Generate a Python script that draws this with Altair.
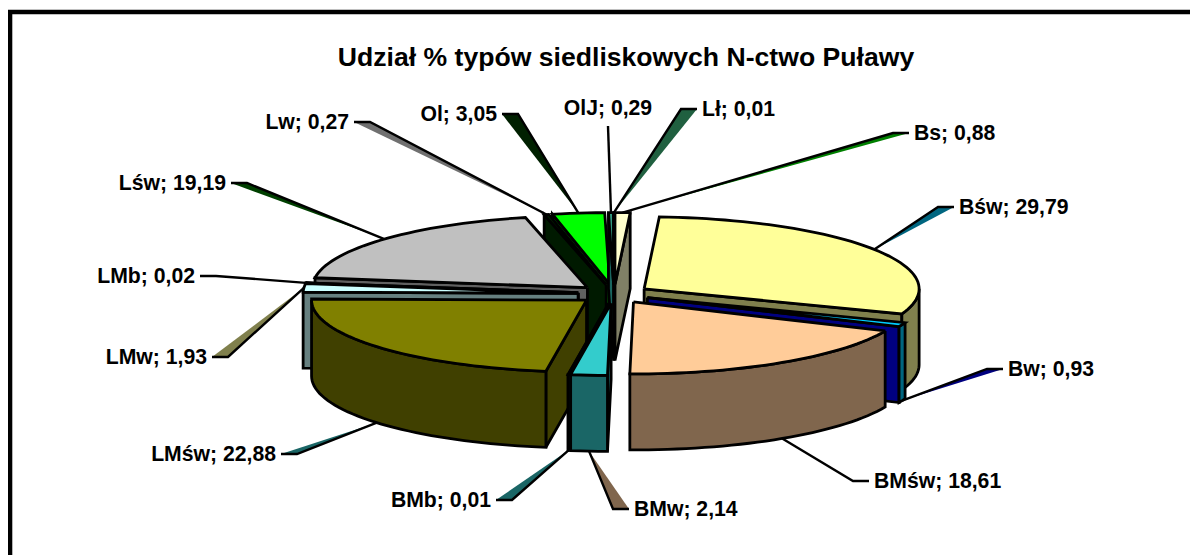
import math
import altair as alt
import pandas as pd

TITLE = "Udział % typów siedliskowych N-ctwo Puławy"

# ---- data, clockwise from 12 o'clock ----
names = ["Bs", "Bśw", "Bw", "BMśw", "BMw", "BMb", "LMśw", "LMw", "LMb", "Lśw", "Lw", "Ol", "OlJ", "Lł"]
values = [0.88, 29.79, 0.93, 18.61, 2.14, 0.01, 22.88, 1.93, 0.02, 19.19, 0.27, 3.05, 0.29, 0.01]

# ---- colours ----
top_colors = ["#FFFFCC", "#FFFF99", "#00CCFF", "#FFCC99", "#33CCCC", "#33CCCC", "#808000", "#CCFFFF", "#969696", "#C0C0C0", "#002800", "#00FF00", "#339980", "#339966"]
outer_colors = ["#808066", "#80804D", "#006680", "#80664D", "#1A6666", "#1A6666", "#404000", "#668080", "#4B4B4B", "#606060", "#001A00", "#008000", "#1A4D40", "#1A4D33"]
end_colors = ["#808066", "#80804D", "#000080", "#80664D", "#1A6666", "#1A6666", "#404000", "#668080", "#4B4B4B", "#606060", "#001A00", "#008000", "#1A6660", "#1A4D33"]
marker_colors = ["#008000", "#006680", "#000080", None, "#80664D", "#1A6666", "#1A6666", "#80804D", None, "#004000", "#707070", "#002000", None, "#206040"]

# ---- pie layout ----
CX, CY = 614, 294
RX, RY = 275, 72
DEPTH = 76
EXPLODE = 36
PAINT_ORDER = ["Ol", "Lw", "OlJ", "Lł", "Bs", "Lśw", "Bśw", "LMb", "LMw", "Bw", "LMśw", "BMb", "BMw", "BMśw"]

# ---- hand placed label elbows (as in the original) ----
ELBOW_X = [893, 938, 987, 853, 613, 512, 297, 228, 216, 247, 370, 518, 608, 681]
ELBOW_Y = [133, 207, 369, 481, 509, 500, 454, 357, 276, 183, 122, 114, 126, 109]
SIDE = [1, 1, 1, 1, 1, -1, -1, -1, -1, -1, -1, -1, 0, 1]
ELBOW_LEN = 16
LABEL_GAP = 5
LABEL_RISE = 18
LABEL_DROP = 1


def rim(t_deg, ax, ay, z=0):
    t = math.radians(t_deg)
    return ax + RX * math.sin(t), ay - RY * math.cos(t) + z


total = sum(values)
polys, wedges, leaders, labels = [], [], [], []
geom = {}
acc = 0.0
for i, name in enumerate(names):
    t0 = acc / total * 360
    acc += values[i]
    t1 = acc / total * 360
    mid = math.radians((t0 + t1) / 2)
    ax = CX + EXPLODE * math.sin(mid)
    ay = CY - EXPLODE * RY / RX * math.cos(mid)
    geom[name] = (i, t0, t1, ax, ay)


def add_poly(pid, pts, color):
    pts = list(pts) + [pts[0]]
    for k, (x, y) in enumerate(pts):
        polys.append({"poly": pid, "k": k, "x": x, "y": y, "fill": color})


pid = 0
for name in PAINT_ORDER:
    i, t0, t1, ax, ay = geom[name]
    # radial wall at the start edge
    if math.sin(math.radians(t0)) < 0:
        o = rim(t0, ax, ay)
        add_poly(pid, [(ax, ay), o, (o[0], o[1] + DEPTH), (ax, ay + DEPTH)], end_colors[i])
        pid += 1
    # radial wall at the end edge
    if math.sin(math.radians(t1)) > 0.0001:
        o = rim(t1, ax, ay)
        add_poly(pid, [(ax, ay), o, (o[0], o[1] + DEPTH), (ax, ay + DEPTH)], end_colors[i])
        pid += 1
    # outer wall, front half only
    a, b = max(t0, 90), min(t1, 270)
    if b > a:
        n = max(2, int((b - a) / 2) + 2)
        ts = [a + (b - a) * j / (n - 1) for j in range(n)]
        pts = [rim(t, ax, ay) for t in ts] + [rim(t, ax, ay, DEPTH) for t in reversed(ts)]
        add_poly(pid, pts, outer_colors[i])
        pid += 1
    # top face
    n = max(2, int((t1 - t0) / 2) + 2)
    ts = [t0 + (t1 - t0) * j / (n - 1) for j in range(n)]
    add_poly(pid, [(ax, ay)] + [rim(t, ax, ay) for t in ts], top_colors[i])
    pid += 1

for i, name in enumerate(names):
    _, t0, t1, ax, ay = geom[name]
    tm = (t0 + t1) / 2
    front = 90 < tm < 270
    anchor = rim(tm, ax, ay, DEPTH if front else 0)
    elbow = (ELBOW_X[i], ELBOW_Y[i])
    side = SIDE[i]
    end = (elbow[0] + side * ELBOW_LEN, elbow[1])
    path = [anchor, elbow] + ([end] if side else [])
    for k, (x, y) in enumerate(path):
        leaders.append({"id": name, "k": k, "x": x, "y": y})
    if marker_colors[i]:
        for k, (x, y) in enumerate([anchor, elbow, end, anchor]):
            wedges.append({"id": name, "k": k, "x": x, "y": y, "fill": marker_colors[i]})
    text = f"{name}; {values[i]:.2f}".replace(".", ",")
    if side:
        labels.append({"x": end[0] + side * LABEL_GAP, "y": end[1] + LABEL_DROP, "t": text,
                       "a": "left" if side > 0 else "right"})
    else:
        labels.append({"x": elbow[0], "y": elbow[1] - LABEL_RISE + LABEL_DROP, "t": text, "a": "center"})

W, H = 1182, 547
xs = alt.Scale(domain=[8, 8 + W], nice=False, zero=False)
ys = alt.Scale(domain=[8 + H, 8], nice=False, zero=False)
X = alt.X("x:Q", scale=xs, axis=None)
Y = alt.Y("y:Q", scale=ys, axis=None)

frame = alt.Chart(pd.DataFrame({"x": [10], "y": [12], "x2": [1500], "y2": [900]})).mark_rect(
    fill="transparent", stroke="black", strokeWidth=4.6, clip=True
).encode(x=X, y=Y, x2="x2:Q", y2="y2:Q")

faces = alt.Chart(pd.DataFrame(polys)).mark_line(
    stroke="black", strokeWidth=2.8, strokeJoin="miter", strokeMiterLimit=3
).encode(
    x=X, y=Y, detail="poly:N", order="k:Q",
    fill=alt.Fill("fill:N", scale=None, legend=None),
)

wedge_layer = alt.Chart(pd.DataFrame(wedges)).mark_line(strokeWidth=0).encode(
    x=X, y=Y, detail="id:N", order="k:Q",
    fill=alt.Fill("fill:N", scale=None, legend=None),
)

leader_layer = alt.Chart(pd.DataFrame(leaders)).mark_line(
    stroke="black", strokeWidth=2.4
).encode(x=X, y=Y, detail="id:N", order="k:Q")

text_props = dict(font="Liberation Sans", fontWeight="bold", fontSize=21.2, color="black", baseline="middle")
left = pd.DataFrame([r for r in labels if r["a"] == "left"])
right = pd.DataFrame([r for r in labels if r["a"] == "right"])
center = pd.DataFrame([r for r in labels if r["a"] == "center"])
label_layers = [
    alt.Chart(df).mark_text(align=a, **text_props).encode(x=X, y=Y, text="t:N")
    for df, a in ((left, "left"), (right, "right"), (center, "center"))
]

chart = alt.layer(frame, wedge_layer, leader_layer, faces, *label_layers).properties(
    width=W, height=H,
    padding=0,
    autosize=alt.AutoSizeParams(type="none"),
    title=alt.TitleParams(
        TITLE, font="Liberation Sans", fontWeight="bold", fontSize=26.6, color="black",
        anchor="start", align="center", offset=-64, dx=618,
    ),
).configure_view(stroke=None).resolve_scale(x="shared", y="shared")

chart.save("out.html", embed_options={"renderer": "svg", "actions": False})
